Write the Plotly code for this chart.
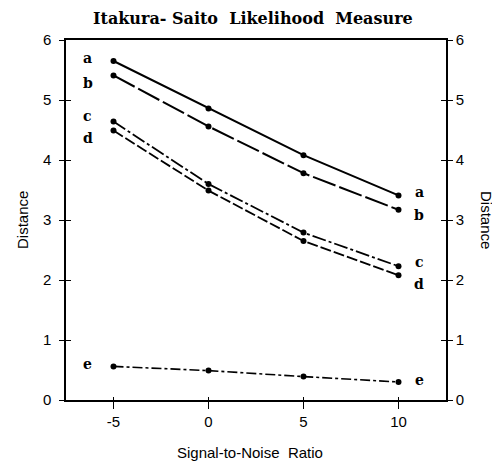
import plotly.graph_objects as go

snr = [-5, 0, 5, 10]
series_names = ["a", "b", "c", "d", "e"]
val_a = [5.65, 4.86, 4.08, 3.41]
val_b = [5.41, 4.56, 3.78, 3.17]
val_c = [4.64, 3.60, 2.79, 2.23]
val_d = [4.49, 3.49, 2.65, 2.08]
val_e = [0.56, 0.49, 0.39, 0.30]
x_ticks = [-5, 0, 5, 10]
x_tick_labels = ["-5", "0", "5", "10"]
y_ticks = [0, 1, 2, 3, 4, 5, 6]

series_vals = [val_a, val_b, val_c, val_d, val_e]
dashes = ["solid", "24px,4px", "14px,3px,3px,3px", "11px,3px", "10px,3px,3px,3px"]
widths = [2, 2, 1.8, 1.8, 1.6]
left_off = [0.05, -0.13, 0.10, -0.12, 0.04]
right_off = [0.06, -0.08, 0.07, -0.14, 0.03]

fig = go.Figure()
for name, vals, dash, w in zip(series_names, series_vals, dashes, widths):
    fig.add_trace(go.Scatter(
        x=snr, y=vals, mode="lines+markers", name=name,
        line=dict(color="black", width=w, dash=dash),
        marker=dict(color="black", size=6),
        showlegend=False,
    ))
fig.add_trace(go.Scatter(x=snr, y=val_a, yaxis="y2", mode="none", showlegend=False, hoverinfo="skip"))
fig.add_trace(go.Scatter(x=snr, y=val_a, xaxis="x2", yaxis="y3", mode="none", showlegend=False, hoverinfo="skip"))
fig.add_trace(go.Scatter(x=snr, y=val_a, xaxis="x2", yaxis="y4", mode="none", showlegend=False, hoverinfo="skip"))

lbl_font = dict(family="DejaVu Serif", size=14, color="#000000")
ann = []
for name, vals, lo, ro in zip(series_names, series_vals, left_off, right_off):
    ann.append(dict(x=-6.35, y=vals[0] + lo, text="<b>%s</b>" % name, showarrow=False,
                    xref="x", yref="y", font=lbl_font, xanchor="center", yanchor="middle"))
    ann.append(dict(x=11.1, y=vals[-1] + ro, text="<b>%s</b>" % name, showarrow=False,
                    xref="x", yref="y", font=lbl_font, xanchor="center", yanchor="middle"))

sans = dict(family="Liberation Sans", size=15, color="#000000")
ann.append(dict(xref="x domain", yref="y domain", x=(22 - 66) / 380, y=0.5, text="Distance",
                showarrow=False, textangle=-90, font=sans, xanchor="center", yanchor="middle"))
ann.append(dict(xref="x domain", yref="y domain", x=(487 - 66) / 380, y=0.5, text="Distance",
                showarrow=False, textangle=90, font=sans, xanchor="center", yanchor="middle"))
ann.append(dict(xref="x domain", yref="y domain", x=(250 - 66) / 380, y=-(452 - 400) / 360,
                text="Signal-to-Noise  Ratio", showarrow=False, font=sans,
                xanchor="center", yanchor="middle"))
ann.append(dict(xref="x domain", yref="y domain", x=(253 - 66) / 380, y=1 + (40 - 18) / 360,
                text="<b>Itakura- Saito  Likelihood  Measure</b>", showarrow=False,
                font=dict(family="DejaVu Serif", size=16, color="#000000"),
                xanchor="center", yanchor="middle"))

axis_common = dict(showgrid=False, zeroline=False, linecolor="black", linewidth=1.5,
                   tickcolor="black", tickwidth=1.2, tickfont=sans, automargin=False)
overlay_common = dict(showticklabels=False, showline=False, showgrid=False, zeroline=False,
                      tickcolor="black", tickwidth=1.2, automargin=False)

# page body has an 8px margin, so the figure is 8px smaller and offset
fig.update_layout(
    width=492, height=455,
    margin=dict(l=58, r=54, t=32, b=63, autoexpand=False),
    plot_bgcolor="white", paper_bgcolor="white",
    font=dict(color="#000000"),
    annotations=ann,
    xaxis=dict(range=[-7.5, 12.5], tickvals=x_ticks, ticktext=x_tick_labels, ticks="outside", ticklen=7,
               showline=True, mirror=True, **axis_common),
    xaxis2=dict(range=[-7.5, 12.5], tickvals=x_ticks, ticks="inside", ticklen=3,
                overlaying="x", **overlay_common),
    yaxis=dict(range=[0, 6], tickvals=y_ticks, ticks="outside", ticklen=5,
               showline=True, ticklabelstandoff=5, **axis_common),
    yaxis2=dict(range=[0, 6], tickvals=y_ticks, ticks="outside", ticklen=5, side="right",
                overlaying="y", showline=True, **axis_common),
    yaxis3=dict(range=[0, 6], tickvals=y_ticks[1:-1], ticks="inside", ticklen=5,
                overlaying="y", **overlay_common),
    yaxis4=dict(range=[0, 6], tickvals=y_ticks[1:-1], ticks="inside", ticklen=5, side="right",
                overlaying="y", **overlay_common),
)

fig.write_html("out.html")
